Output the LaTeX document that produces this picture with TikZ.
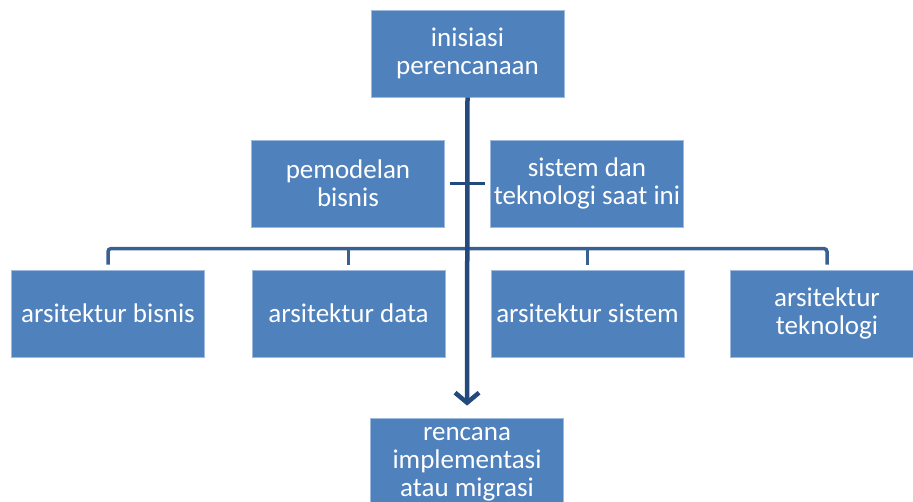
\documentclass[tikz,border=0pt]{standalone}
\usepackage{fontspec}
\setmainfont{Carlito}
\usetikzlibrary{arrows.meta}
\definecolor{boxfill}{HTML}{4F81BD}
\definecolor{boxline}{HTML}{9DB9DC}
\definecolor{navy}{HTML}{24497C}
\definecolor{busc}{HTML}{3A5F91}
\tikzset{
  box/.style={draw=boxline, line width=0.8pt, fill=boxfill, text=white,
    minimum width=193pt, minimum height=87pt, inner sep=1pt, align=center,
    font=\fontsize{27}{28}\selectfont},
  mainline/.style={draw=navy, line width=4.5pt},
  busline/.style={draw=busc, line width=3.5pt, rounded corners=3pt},
}
\begin{document}
\begin{tikzpicture}[x=1pt,y=-1pt]
\useasboundingbox (0,0) rectangle (913,502);
\node[box] (top) at (467.5,53.5) {inisiasi\\perencanaan};
\node[box] (pem) at (348,183.5) {pemodelan\\bisnis};
\node[box] (sis) at (587,183.5) {sistem dan\\teknologi saat ini};
\node[box] (ab) at (108,313.5) {arsitektur bisnis};
\node[box] (ad) at (348.5,313.5) {arsitektur data};
\node[box] (as) at (587.5,313.5) {arsitektur sistem};
\node[box] (at) at (827,313.5) {arsitektur\\teknologi};
\node[box, minimum height=92pt] (bot) at (467,464) {rencana\\implementasi\\atau migrasi};
% bus
\draw[busline] ([yshift=5pt]ab.north) -- ([yshift=21pt]ab.north) -- ([yshift=21pt]at.north) -- ([yshift=5pt]at.north);
\draw[busline] ([yshift=5pt]ad.north) -- ([yshift=21pt]ad.north);
\draw[busline] ([yshift=5pt]as.north) -- ([yshift=21pt]as.north);
% cross bar
\draw[draw=navy, line width=3pt] ([xshift=5pt]pem.east) -- ([xshift=-5pt]sis.west);
% main arrow
\draw[mainline, -{Straight Barb[length=10pt,width=24pt]}, shorten >=12pt] (top.south) -- (bot.north);
\end{tikzpicture}
\end{document}
